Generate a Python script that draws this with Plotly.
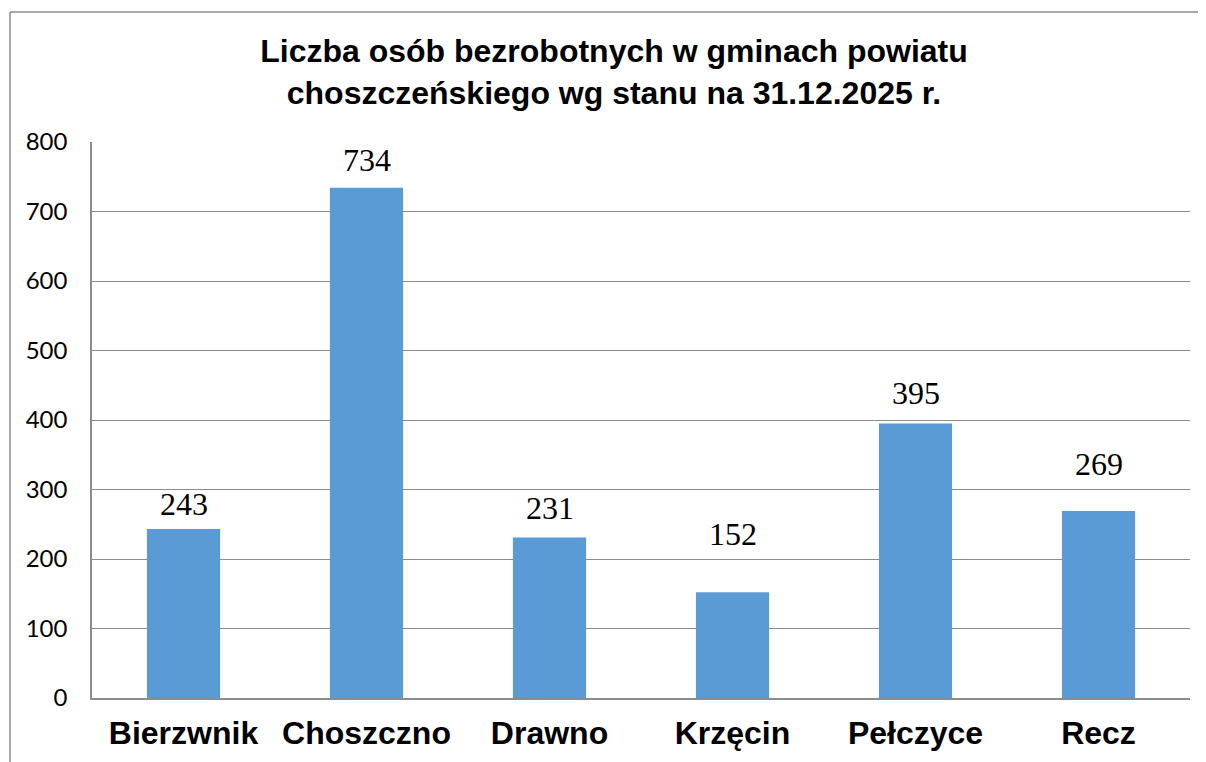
import plotly.graph_objects as go

categories = ["Bierzwnik", "Choszczno", "Drawno", "Krzęcin", "Pełczyce", "Recz"]
values = [243, 734, 231, 152, 395, 269]
y_ticks = [0, 100, 200, 300, 400, 500, 600, 700, 800]
title_text = "Liczba osób bezrobotnych w gminach powiatu<br>choszczeńskiego wg stanu na 31.12.2025 r."

# style: vertical pixel offset of each data label above its bar (as placed in the original)
label_shift_px = [5, 8, 9, 38, 10, 27]

OFF = 8  # page body margin offset
W, H = 1206 - OFF, 762 - OFF
L, T = 92 - OFF, 142 - OFF
R, B = W - (1190 - OFF), H - (698 - OFF)
pw, ph = W - L - R, H - T - B

fig = go.Figure()
fig.add_trace(go.Bar(
    x=categories, y=values, width=0.4,
    marker=dict(color="#5B9BD5", line=dict(width=0)),
    hoverinfo="x+y",
))

for c, v, s in zip(categories, values, label_shift_px):
    fig.add_annotation(
        x=c, y=v, text=str(v), showarrow=False, yanchor="bottom", yshift=s,
        font=dict(family="Liberation Serif", size=32, color="black"),
    )

gray = "#8c8c8c"
# outer chart border: top and left edges (right/bottom lie outside the picture)
bx0 = (10 - OFF - L) / pw
bx1 = (W - L) / pw
by_top = (H - B - (12 - OFF)) / ph
by_bot = (H - B - H) / ph
fig.add_shape(type="line", xref="paper", yref="paper",
              x0=bx0, x1=bx1, y0=by_top, y1=by_top,
              line=dict(color=gray, width=1.5), layer="below")
fig.add_shape(type="line", xref="paper", yref="paper",
              x0=bx0, x1=bx0, y0=by_top, y1=by_bot,
              line=dict(color=gray, width=1.5), layer="below")

fig.update_layout(
    width=W, height=H,
    margin=dict(l=L, r=R, t=T, b=B, autoexpand=False),
    paper_bgcolor="white", plot_bgcolor="white",
    showlegend=False,
    title=dict(
        text=title_text, xref="container", yref="container",
        x=(614 - OFF) / W, xanchor="center", y=1 - 54 / H, yanchor="middle",
        font=dict(family="Liberation Sans", size=32, color="black", weight="bold"),
        automargin=False,
    ),
    xaxis=dict(
        automargin=False,
        showline=True, linecolor=gray, linewidth=1.5, mirror=False,
        showgrid=False, ticks="",
        tickfont=dict(family="Liberation Sans", size=32, color="black", weight="bold"),
        ticklabelstandoff=6,
    ),
    yaxis=dict(
        automargin=False,
        range=[0, 800], tickvals=y_ticks, ticktext=[str(t) for t in y_ticks],
        showgrid=True, gridcolor=gray, gridwidth=1,
        showline=True, linecolor=gray, linewidth=1.5,
        zeroline=False, ticks="",
        tickfont=dict(family="Lato", size=24, color="black"),
        ticklabelstandoff=18,
    ),
)

fig.write_html("out.html")
